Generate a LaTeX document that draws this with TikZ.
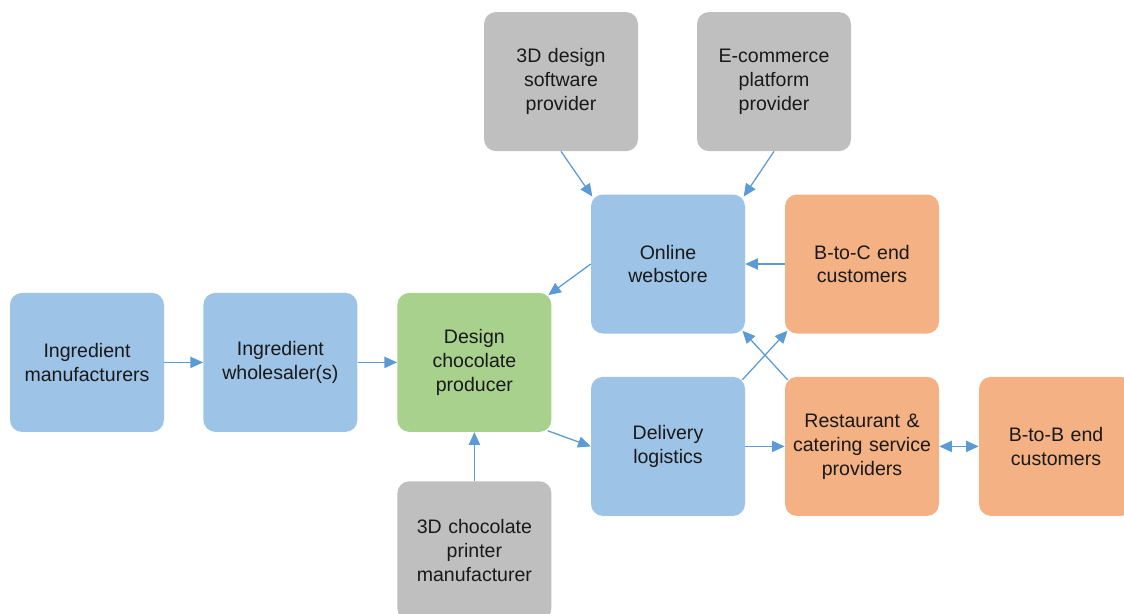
\documentclass[tikz,border=0pt]{standalone}
\usepackage{fontspec}
\setmainfont{Liberation Sans}
\usetikzlibrary{arrows.meta}
\definecolor{boxblue}{HTML}{9DC3E6}
\definecolor{boxgreen}{HTML}{A9D18E}
\definecolor{boxgray}{HTML}{BFBFBF}
\definecolor{boxorange}{HTML}{F4B183}
\definecolor{linkblue}{HTML}{5B9BD5}
\begin{document}
\begin{tikzpicture}[>={Triangle[length=9pt,width=8pt]},
    box/.style={rounded corners=8.5pt,minimum width=3.85cm,minimum height=3.475cm,text width=3.75cm,align=center,inner sep=0pt,text=black!90,font=\fontsize{13.9}{17}\selectfont},
    link/.style={->,draw=linkblue,fill=linkblue,line width=0.9pt}]
            \useasboundingbox(0,0)rectangle(28.1,-15.35);
            \node[box,fill=boxblue](im)at(2.175,-9.06){Ingredient\\manufacturers};
            \node[box,fill=boxblue](iw)at(7.01,-9.06){Ingredient\\wholesaler(s)};
            \node[box,fill=boxgreen](dp)at(11.86,-9.06){Design\\chocolate\\producer};
            \node[box,fill=boxgray](pm)at(11.86,-13.77){3D chocolate\\printer\\manufacturer};
            \node[box,fill=boxgray](sw)at(14.025,-2.04){3D design\\software\\provider};
            \node[box,fill=boxgray](ec)at(19.35,-2.04){E-commerce\\platform\\provider};
            \node[box,fill=boxblue](ws)at(16.7,-6.6){Online\\webstore};
            \node[box,fill=boxorange](bc)at(21.55,-6.6){B-to-C end\\customers};
            \node[box,fill=boxblue](dl)at(16.7,-11.16){Delivery\\logistics};
            \node[box,fill=boxorange](rc)at(21.55,-11.16){Restaurant \&\\catering service\\providers};
            \node[box,fill=boxorange](bb)at(26.4,-11.16){B-to-B end\\customers};
            % supply chain
            \draw[link](im)--(iw);
            \draw[link](iw)--(dp);
            \draw[link](pm)--(dp);
            \draw[link,shorten <=-3pt](dp.south east)--(dl.west);
            \draw[link,shorten >=-3pt](ws.west)--(dp.north east);
            % providers of the webstore
            \draw[link,shorten >=-2pt](sw.south)--(ws.north west);
            \draw[link,shorten >=-2pt](ec.south)--(ws.north east);
            % customers
            \draw[link](bc)--(ws);
            \draw[link,shorten <=-3pt,shorten >=-3pt](dl.north east)--(bc.south west);
            \draw[link,shorten <=-3pt,shorten >=-3pt](rc.north west)--(ws.south east);
            \draw[link](dl)--(rc);
            \draw[link,<->](rc)--(bb);
        \end{tikzpicture}
\end{document}
